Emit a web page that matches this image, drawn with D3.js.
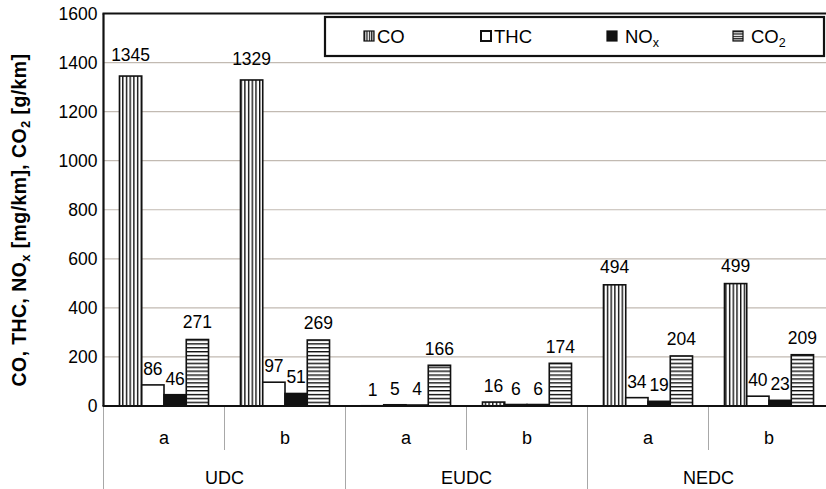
<!DOCTYPE html>
<html><head><meta charset="utf-8">
<script src="https://cdn.jsdelivr.net/npm/d3@7"></script>
<style>body{margin:0;background:#fff}svg{display:block}text{font-family:"Liberation Sans",Arial,sans-serif;fill:#000}</style>
</head><body>
<svg id="c" width="826" height="489"></svg>
<script>
const cycles = ["UDC","EUDC","NEDC"];
const variants = ["a","b"];
const seriesKeys = ["CO","THC","NOx","CO2"];
const CO   = [1345,1329,1,16,494,499];
const THC  = [86,97,5,6,34,40];
const NOx  = [46,51,4,6,19,23];
const CO2  = [271,269,166,174,204,209];
const yTicks = [0,200,400,600,800,1000,1200,1400,1600];
const seriesVals = {CO, THC, NOx, CO2};

const svg = d3.select("#c");
const L = 103.5, R = 829.5, T = 13.5, B = 406;
const defs = svg.append("defs");
const pv = defs.append("pattern").attr("id","pv").attr("patternUnits","userSpaceOnUse").attr("width",3.7).attr("height",10);
pv.append("rect").attr("width",3.7).attr("height",10).attr("fill","#fff");
pv.append("rect").attr("x",0).attr("width",1.4).attr("height",10).attr("fill","#111");
const ph = defs.append("pattern").attr("id","ph").attr("patternUnits","userSpaceOnUse").attr("width",10).attr("height",3.9);
ph.append("rect").attr("width",10).attr("height",3.9).attr("fill","#fff");
ph.append("rect").attr("y",0).attr("height",1.4).attr("width",10).attr("fill","#111");
const pvs = defs.append("pattern").attr("id","pvs").attr("patternUnits","userSpaceOnUse").attr("width",2.4).attr("height",10);
pvs.append("rect").attr("width",2.4).attr("height",10).attr("fill","#fff");
pvs.append("rect").attr("width",1.2).attr("height",10).attr("fill","#111");
const phs = defs.append("pattern").attr("id","phs").attr("patternUnits","userSpaceOnUse").attr("width",10).attr("height",2.4);
phs.append("rect").attr("width",10).attr("height",2.4).attr("fill","#fff");
phs.append("rect").attr("height",1.2).attr("width",10).attr("fill","#111");

const fills = {CO:"url(#pv)", THC:"#fff", NOx:"#111", CO2:"url(#ph)"};
const legFills = {CO:"url(#pvs)", THC:"#fff", NOx:"#111", CO2:"url(#phs)"};

const y = d3.scaleLinear().domain([0,1600]).range([B,T]);
const x0 = d3.scaleBand().domain(cycles).range([L,R]);
const x1 = d3.scaleBand().domain(variants).range([0,x0.bandwidth()]);
const bw = x1.bandwidth();
const xs = d3.scaleBand().domain(seriesKeys).range([bw*0.132, bw*0.868]);

// gridlines
svg.append("g").selectAll("line").data(yTicks.filter(d=>d>0 && d<1600)).join("line")
  .attr("x1",L).attr("x2",826).attr("y1",d=>y(d)).attr("y2",d=>y(d))
  .attr("stroke","#c2bab2").attr("stroke-width",1.2);

// y axis labels
const yAxis = d3.axisLeft(y).tickValues(yTicks).tickFormat(d3.format("d")).tickSize(0).tickPadding(6);
const ga = svg.append("g").attr("transform",`translate(${L},0)`).call(yAxis);
ga.select(".domain").remove();
ga.selectAll("text").attr("font-size","17.5px").attr("font-family","Liberation Sans, Arial, sans-serif").attr("fill","#111");

// rows
const rows = [];
cycles.forEach((c,ci)=>variants.forEach((v,vi)=>{
  const idx = ci*2+vi;
  seriesKeys.forEach(s=>rows.push({c,v,s,val:seriesVals[s][idx]}));
}));
const bx = d=>x0(d.c)+x1(d.v)+xs(d.s);

svg.append("g").selectAll("rect").data(rows).join("rect")
  .attr("x",bx).attr("width",xs.bandwidth())
  .attr("y",d=>y(d.val)).attr("height",d=>B-y(d.val))
  .attr("fill",d=>fills[d.s]).attr("stroke","#111").attr("stroke-width",1.6);

svg.append("g").selectAll("text").data(rows).join("text")
  .attr("x",d=>bx(d)+xs.bandwidth()/2)
  .attr("y",d=>y(d.val)-10-d.val/250)
  .attr("text-anchor","middle").attr("font-size","17.5px").attr("fill","#111")
  .text(d=>d.val);

// frame
svg.append("line").attr("x1",L-1).attr("x2",826).attr("y1",T).attr("y2",T).attr("stroke","#111").attr("stroke-width",2.2);
svg.append("line").attr("x1",L).attr("x2",L).attr("y1",T).attr("y2",B).attr("stroke","#111").attr("stroke-width",2.2);

// bottom category separators
const subEdges = [];
cycles.forEach(c=>variants.forEach((v,vi)=>{ if(vi>0) subEdges.push(x0(c)+x1(v)); }));
const grpEdges = cycles.map(c=>x0(c));
svg.append("g").selectAll("line").data(subEdges).join("line")
  .attr("x1",d=>d).attr("x2",d=>d).attr("y1",B).attr("y2",450).attr("stroke","#a8a8a8").attr("stroke-width",1);
svg.append("g").selectAll("line").data(grpEdges).join("line")
  .attr("x1",d=>d).attr("x2",d=>d).attr("y1",B).attr("y2",489).attr("stroke","#a8a8a8").attr("stroke-width",1);
svg.append("line").attr("x1",L-1).attr("x2",826).attr("y1",B).attr("y2",B).attr("stroke","#111").attr("stroke-width",2.2);

// subgroup labels
const subs = [];
cycles.forEach(c=>variants.forEach(v=>subs.push({c,v})));
svg.append("g").selectAll("text").data(subs).join("text")
  .attr("x",d=>x0(d.c)+x1(d.v)+bw/2).attr("y",444)
  .attr("text-anchor","middle").attr("font-size","18px").attr("fill","#111").text(d=>d.v);
svg.append("g").selectAll("text").data(cycles).join("text")
  .attr("x",d=>x0(d)+x0.bandwidth()/2).attr("y",484)
  .attr("text-anchor","middle").attr("font-size","18px").attr("fill","#111").text(d=>d);

// y label
const yl = svg.append("text").attr("transform","translate(26,220) rotate(-90)")
  .attr("text-anchor","middle").attr("font-size","19.5px").attr("font-weight","bold")
  .attr("letter-spacing","0.4px").attr("fill","#111");
yl.append("tspan").text("CO, THC, NO");
yl.append("tspan").attr("font-size","13px").attr("dy",4).text("x");
yl.append("tspan").attr("dy",-4).text(" [mg/km], CO");
yl.append("tspan").attr("font-size","13px").attr("dy",4).text("2");
yl.append("tspan").attr("dy",-4).text(" [g/km]");

// legend
svg.append("rect").attr("x",325).attr("y",17).attr("width",499).attr("height",39)
  .attr("fill","#fff").attr("stroke","#111").attr("stroke-width",2.2);
const legPos = {CO:364, THC:481, NOx:607, CO2:733};
const legLabels = {CO:["CO",""], THC:["THC",""], NOx:["NO","x"], CO2:["CO","2"]};
const lg = svg.append("g").selectAll("g").data(seriesKeys).join("g")
  .attr("transform",d=>`translate(${legPos[d]},31)`);
lg.append("rect").attr("width",10).attr("height",10)
  .attr("fill",d=>legFills[d]).attr("stroke","#111").attr("stroke-width",d=>d==="THC"?2:1.2);
const lt = lg.append("text").attr("x",d=>d==="NOx"||d==="CO2"?18:13).attr("y",12).attr("font-size","18.5px").attr("fill","#111");
lt.append("tspan").text(d=>legLabels[d][0]);
lt.append("tspan").attr("font-size","12.5px").attr("dy",4).text(d=>legLabels[d][1]);
</script>
</body></html>
